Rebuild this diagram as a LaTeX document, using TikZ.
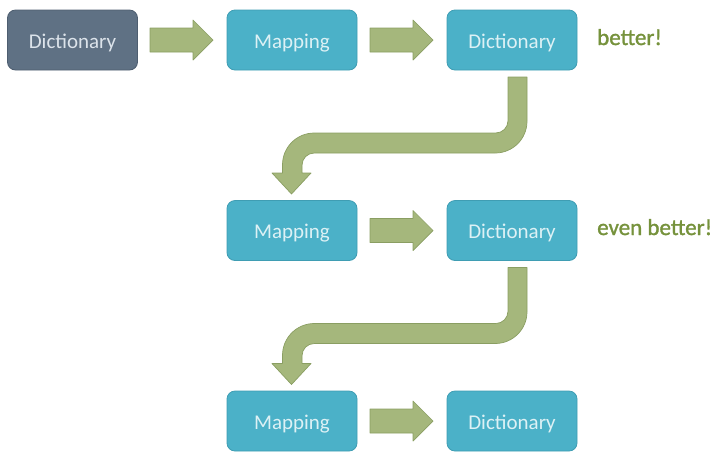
\documentclass[tikz,border=0pt]{standalone}
\usepackage{fontspec}
\setmainfont{Carlito}
\newfontfamily\remarkfont[FakeBold=1.3]{Carlito}
\definecolor{teal}{HTML}{4BB1C8}
\definecolor{tealborder}{HTML}{3F9DB3}
\definecolor{slate}{HTML}{5F7184}
\definecolor{slateborder}{HTML}{4E5E70}
\definecolor{tealtext}{HTML}{DDF1F5}
\definecolor{slatetext}{HTML}{DCE3EA}
\definecolor{arrowfill}{HTML}{A5B77C}
\definecolor{arrowborder}{HTML}{8A9E62}
\definecolor{greentext}{HTML}{76923C}
\tikzset{
  box/.style={draw=tealborder, fill=teal, line width=0.8pt, rounded corners=8pt,
    minimum width=130pt, minimum height=60pt, inner sep=0pt,
    text height=16pt, text depth=0pt,
    text=tealtext, font=\fontsize{21}{25}\selectfont},
  darkbox/.style={box, draw=slateborder, fill=slate, text=slatetext},
  blockarrow/.style={draw=arrowborder, fill=arrowfill, line width=0.7pt, line join=round},
  remark/.style={text=greentext, font=\remarkfont\fontsize{23}{27}\selectfont, anchor=base west, inner sep=0pt},
  rarrow/.pic={\path[blockarrow] (0pt,12pt)--(43pt,12pt)--(43pt,20pt)--(63pt,0pt)--(43pt,-20pt)--(43pt,-12pt)--(0pt,-12pt)--cycle;},
  bentarrow/.pic={\path[blockarrow] (508pt,-77pt) -- (527pt,-77pt) -- (527pt,-121.25pt)
      arc[start angle=0,end angle=-90,radius=31.75pt] -- (314.25pt,-153pt)
      arc[start angle=90,end angle=180,radius=12.25pt] -- (302pt,-173pt) -- (311pt,-173pt)
      -- (291.5pt,-194pt) -- (272pt,-173pt) -- (282.5pt,-173pt) -- (282.5pt,-164.75pt)
      arc[start angle=180,end angle=90,radius=31.75pt] -- (495.75pt,-133pt)
      arc[start angle=-90,end angle=0,radius=12.25pt] -- cycle;}
}
\begin{document}
\begin{tikzpicture}[x=1pt,y=1pt]
\useasboundingbox (0,0) rectangle (717,-451);
% row 1
\node[darkbox] (d0) at (72.5,-40) {Dictionary};
\node[box] (m1) at (292,-40) {Mapping};
\node[box] (d1) at (512,-40) {Dictionary};
\node[remark] (r1) at (597,-45) {better!};
% row 2
\node[box] (m2) at (292,-230.5) {Mapping};
\node[box] (d2) at (512,-230.5) {Dictionary};
\node[remark] (r2) at (597,-235) {even better!};
% row 3
\node[box] (m3) at (292,-421) {Mapping};
\node[box] (d3) at (512,-421) {Dictionary};
% arrows
\pic at (150,-40) {rarrow};
\pic at (370,-40) {rarrow};
\pic at (370,-230.5) {rarrow};
\pic at (370,-421) {rarrow};
\pic at (0,0) {bentarrow};
\pic at (0,-190.5) {bentarrow};
\end{tikzpicture}
\end{document}
